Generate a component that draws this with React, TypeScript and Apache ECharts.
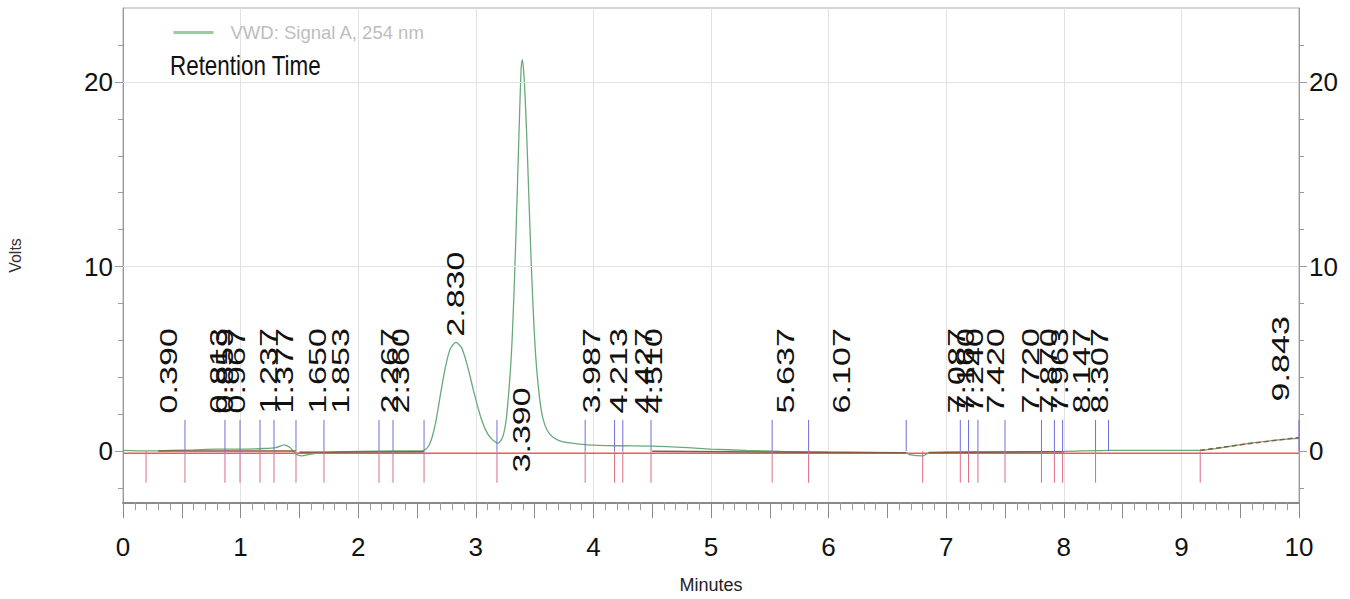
import React, { useEffect, useRef } from "react";
import * as echarts from "echarts";

// ---- data ----
const signalName = "VWD: Signal A, 254 nm";

// chromatogram trace [minutes, volts]
const signalPoints: [number, number][] = [
  [0, 0.05], [0.2, 0.02], [0.4, 0.05], [0.6, 0.08], [0.8, 0.12], [1.0, 0.12], [1.2, 0.15],
  [1.3, 0.2], [1.37, 0.35], [1.42, 0.2], [1.47, -0.15], [1.52, -0.25], [1.6, -0.15],
  [1.8, -0.05], [2.0, 0.0], [2.3, 0.02], [2.5, 0.02], [2.56, 0.05],
  [2.6, 0.3], [2.63, 0.8], [2.66, 1.6], [2.7, 3.1], [2.74, 4.5], [2.78, 5.5], [2.83, 5.9],
  [2.88, 5.6], [2.93, 4.6], [2.98, 3.3], [3.03, 2.1], [3.08, 1.2], [3.13, 0.7], [3.19, 0.43],
  [3.23, 0.8], [3.26, 1.8], [3.29, 4.0], [3.31, 6.2], [3.33, 9.5], [3.35, 13.5], [3.37, 17.8],
  [3.385, 20.6], [3.395, 21.2], [3.41, 20.3], [3.43, 17.6], [3.45, 14.0], [3.47, 10.4],
  [3.49, 7.4], [3.51, 5.1], [3.54, 3.0], [3.57, 1.8], [3.61, 1.1], [3.66, 0.75], [3.72, 0.55],
  [3.8, 0.45], [3.95, 0.35], [4.2, 0.3], [4.5, 0.28], [4.8, 0.2], [5.0, 0.12], [5.3, 0.05],
  [5.6, 0.0], [6.0, -0.05], [6.4, -0.08], [6.66, -0.1], [6.7, -0.2], [6.8, -0.25], [6.85, -0.1],
  [7.0, -0.05], [7.5, -0.03], [8.0, 0.0], [8.4, 0.05], [8.8, 0.05], [9.16, 0.05], [9.4, 0.25],
  [9.6, 0.45], [9.8, 0.6], [10, 0.7],
];

// integration baseline segments (null = gap)
const baselineSolid: ([number, number] | null)[] = [
  [0.3, 0.02], [1.47, 0.02], null,
  [1.5, -0.05], [2.56, -0.02], null,
  [4.5, 0.0], [6.66, -0.08], null,
  [6.85, -0.06], [8.0, -0.02],
];
const baselineDashed: [number, number][] = [[9.16, 0.05], [9.5, 0.35], [10, 0.75]];

// reference line
const zeroLine: [number, number][] = [[0, -0.1], [10, -0.1]];

// peak event marks (minutes)
const startMarks = [0.527, 0.867, 0.995, 1.165, 1.284, 1.471, 1.709, 2.177, 2.296, 2.56, 3.18, 3.93,
  4.18, 4.25, 4.49, 5.52, 5.83, 6.66, 7.12, 7.19, 7.27, 7.5, 7.81, 7.92, 7.99, 8.27, 8.38, 10.0];
const endMarks = [0.196, 0.527, 0.867, 0.995, 1.165, 1.284, 1.471, 1.709, 2.177, 2.296, 2.56, 3.18,
  3.93, 4.18, 4.25, 4.49, 5.52, 5.83, 6.8, 7.12, 7.19, 7.27, 7.5, 7.81, 7.92, 7.99, 8.27, 9.16];

// retention times and the volt level their label starts at
const retentionTimes = [0.39, 0.813, 0.859, 0.967, 1.237, 1.377, 1.65, 1.853, 2.267, 2.36, 2.83, 3.39,
  3.987, 4.213, 4.427, 4.51, 5.637, 6.107, 7.087, 7.16, 7.24, 7.42, 7.72, 7.87, 7.963, 8.147, 8.307, 9.843];
const labelLevels = [2.05, 2.05, 2.05, 2.05, 2.05, 2.05, 2.05, 2.05, 2.05, 2.05, 6.2, -1.15,
  2.05, 2.05, 2.05, 2.05, 2.05, 2.05, 2.05, 2.05, 2.05, 2.05, 2.05, 2.05, 2.05, 2.05, 2.05, 2.7];

const yLabelValues = [0, 10, 20];
const yMinorTicks = [-2, 0, 2, 4, 6, 8, 10, 12, 14, 16, 18, 20, 22];
const gridLevels = [10, 20];

const REG = "'Liberation Sans', Arial, sans-serif";

export default function App() {
  const ref = useRef<HTMLDivElement>(null);
  useEffect(() => {
    if (!ref.current) return;
    const chart = echarts.init(ref.current, undefined, { renderer: "svg" });
    const axisGray = "#9a9a9a";
    const yAxisBase = (pos: "left" | "right") => ({
      type: "value", min: -2.8, max: 24, position: pos,
      axisLine: { show: true, onZero: false, lineStyle: { color: axisGray, width: 1 } },
      axisTick: { show: true, customValues: yMinorTicks, length: 5, lineStyle: { color: axisGray } },
      axisLabel: { show: true, customValues: yLabelValues, margin: 10, color: "#111", fontSize: 26, fontFamily: REG },
      splitLine: { show: false },
    });
    const yMajor = (pos: "left" | "right") => ({
      type: "value", min: -2.8, max: 24, position: pos,
      axisLine: { show: false, onZero: false },
      axisTick: { show: true, customValues: yLabelValues, length: 8, lineStyle: { color: axisGray } },
      axisLabel: { show: false },
      splitLine: { show: false },
    });
    const markSeries = (name: string, marks: number[], top: number, color: string) => ({
      type: "custom", name, xAxisIndex: 0, yAxisIndex: 0, silent: true, z: 4,
      data: marks.map((t) => [t, top]),
      renderItem: (_p: any, api: any) => {
        const a = api.coord([api.value(0), 0]);
        const b = api.coord([api.value(0), api.value(1)]);
        return { type: "line", shape: { x1: a[0], y1: a[1], x2: b[0], y2: b[1] }, style: { stroke: color, lineWidth: 1 } };
      },
    });
    chart.setOption({
      animation: false,
      backgroundColor: "#ffffff",
      grid: {
        left: 123, right: 51, top: 8, bottom: 96, show: true, borderColor: "#aaaaaa", borderWidth: 1,
        containLabel: false, outerBoundsMode: "none",
      },
      graphic: [
        {
          type: "text", x: 170, y: 52, scaleX: 0.83, silent: true,
          style: { text: "Retention Time", fontSize: 27, fill: "#111", fontFamily: REG, verticalAlign: "top" },
        },
      ],
      legend: {
        data: [{ name: signalName, itemStyle: { opacity: 0 }, lineStyle: { color: "#9ccaa3", width: 3 } }],
        left: 172, top: 23, padding: 0, itemWidth: 40, itemHeight: 14,
        textStyle: { color: "#bdbdbd", fontSize: 18.5, fontFamily: REG, padding: [0, 0, 0, 12] },
      },
      xAxis: [
        {
          type: "value", min: 0, max: 10, interval: 0.5, position: "bottom",
          name: "Minutes", nameLocation: "middle", nameGap: 73,
          nameTextStyle: { color: "#222", fontSize: 18, fontFamily: REG },
          axisLine: { show: true, onZero: false, lineStyle: { color: "#8a8a8a", width: 2 } },
          axisTick: { show: true, length: 15, lineStyle: { color: "#8a8a8a" } },
          minorTick: { show: true, splitNumber: 5, length: 7, lineStyle: { color: "#9a9a9a" } },
          axisLabel: {
            margin: 31, color: "#111", fontSize: 26, fontFamily: REG,
            formatter: (v: number) => (Number.isInteger(v) ? String(v) : ""),
          },
          splitLine: { show: false },
        },
        {
          type: "value", min: 0, max: 10, interval: 1, position: "bottom",
          axisLine: { show: false, onZero: false }, axisTick: { show: false }, axisLabel: { show: false },
          splitLine: { show: true, lineStyle: { color: "#e2e2e2", width: 1 } },
        },
      ],
      yAxis: [
        {
          ...yAxisBase("left"),
          name: "Volts", nameLocation: "middle", nameGap: 100,
          nameTextStyle: { color: "#333", fontSize: 16, fontFamily: REG },
        },
        yAxisBase("right"),
        yMajor("left"),
        yMajor("right"),
      ],
      series: [
        {
          type: "line", name: signalName, data: signalPoints, xAxisIndex: 0, yAxisIndex: 0,
          symbol: "none", showSymbol: false, smooth: 0.25, z: 3,
          lineStyle: { color: "#6aa97a", width: 1.3 }, itemStyle: { color: "#9ccaa3" },
          markLine: {
            silent: true, symbol: "none", label: { show: false },
            lineStyle: { color: "#e2e2e2", type: "solid", width: 1 },
            data: gridLevels.map((v) => ({ yAxis: v })),
          },
        },
        {
          type: "line", name: "baseline", data: baselineSolid, xAxisIndex: 0, yAxisIndex: 0,
          symbol: "none", showSymbol: false, connectNulls: false, z: 3, lineStyle: { color: "#8a5a3c", width: 1.5 },
        },
        {
          type: "line", name: "baseline2", data: baselineDashed, xAxisIndex: 0, yAxisIndex: 0,
          symbol: "none", showSymbol: false, z: 3, lineStyle: { color: "#8a5a3c", width: 1.5, type: [5, 3] },
        },
        {
          type: "line", name: "zero", data: zeroLine, xAxisIndex: 0, yAxisIndex: 0,
          symbol: "none", showSymbol: false, z: 2, lineStyle: { color: "#ee5a5a", width: 1.5 },
        },
        markSeries("start", startMarks, 1.7, "#6f6fdc"),
        markSeries("end", endMarks, -1.7, "#e06a88"),
        {
          type: "custom", name: "rt", xAxisIndex: 0, yAxisIndex: 0, silent: true, z: 5, clip: false,
          data: retentionTimes.map((t, i) => [t, labelLevels[i]]),
          renderItem: (params: any, api: any) => {
            const p = api.coord([api.value(0), api.value(1)]);
            return {
              type: "text", x: p[0], y: p[1], rotation: Math.PI / 2, scaleX: 1.42,
              style: {
                text: retentionTimes[params.dataIndex].toFixed(3), fill: "#111",
                fontSize: 24, fontFamily: REG, align: "left", verticalAlign: "middle",
              },
            };
          },
        },
      ],
    });
    return () => chart.dispose();
  }, []);
  return <div ref={ref} style={{ position: "fixed", left: 0, top: 0, width: 1350, height: 599 }} />;
}
